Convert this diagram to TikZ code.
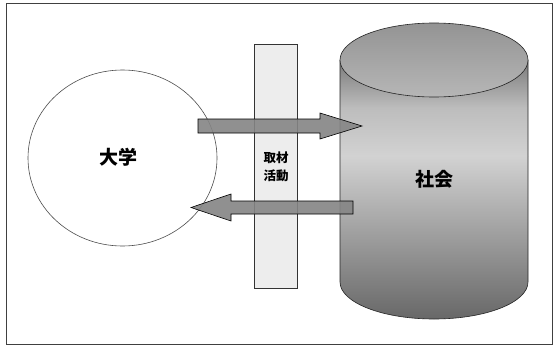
\documentclass[tikz,border=0pt]{standalone}
\usepackage{fontspec}
\newfontfamily\cjk{Noto Sans CJK JP}
\definecolor{arrowgray}{HTML}{858585}
\definecolor{bargray}{HTML}{EDEDED}
\definecolor{cyldark}{HTML}{7A7A7A}
\definecolor{cylmid}{HTML}{D2D2D2}
\definecolor{cyltop}{HTML}{A4A4A4}
\tikzset{
  bigarrow/.style={draw=black, line width=0.6pt, fill=arrowgray, fill opacity=0.9},
  bigtext/.style={font=\cjk\bfseries\fontsize{19}{19}\selectfont},
  smalltext/.style={font=\cjk\bfseries\fontsize{12.5}{18}\selectfont, align=center},
}
\begin{document}
\begin{tikzpicture}[x=1pt,y=1pt]
\useasboundingbox (0,0) rectangle (553,346);
\fill[white] (0,0) rectangle (553,346);
\draw[black!75, line width=1pt] (6,2) rectangle (552,342);
% university ellipse
\draw[black!70, line width=0.6pt, fill=white] (122.5,188) ellipse [x radius=94.5, y radius=88];
% bar
\draw[black!80, line width=0.6pt, fill=bargray] (254,58) rectangle (297,302);
% cylinder body
\shade[top color=cyldark, bottom color=cylmid, middle color=cylmid!90!black]
  (340,286) -- (340,190) -- (528,190) -- (528,286) -- cycle;
\path[top color=cylmid, bottom color=cyldark!85!black]
  (340,190) -- (340,64) arc[start angle=180, end angle=360, x radius=94, y radius=37] -- (528,190) -- cycle;
\draw[black!85, line width=0.6pt]
  (340,286) -- (340,64) arc[start angle=180, end angle=360, x radius=94, y radius=37] -- (528,286);
\draw[black!85, line width=0.6pt, top color=cyltop!90!black, bottom color=cyltop!80!white]
  (434,286) ellipse [x radius=94, y radius=37];
% arrows
\coordinate (uptail) at (198,220);
\coordinate (uptip) at (362,220);
\coordinate (lowtail) at (353,138.5);
\coordinate (lowtip) at (191,138.5);
\draw[bigarrow] (uptail) ++(0,-7) -- ++(122,0) -- ++(0,-6) -- (uptip) -- ++(-42,13) -- ++(0,-6) -- ++(-122,0) -- cycle;
\draw[bigarrow] (lowtail) ++(0,-6.5) -- ++(-122,0) -- ++(0,-7) -- (lowtip) -- ++(40,13.5) -- ++(0,-7) -- ++(122,0) -- cycle;
% texts
\node[bigtext] (daigaku) at (118,189) {大学};
\node[bigtext] (shakai) at (434,167) {社会};
\node[smalltext] (shuzai) at (276,179) {取材\\活動};
\end{tikzpicture}
\end{document}
